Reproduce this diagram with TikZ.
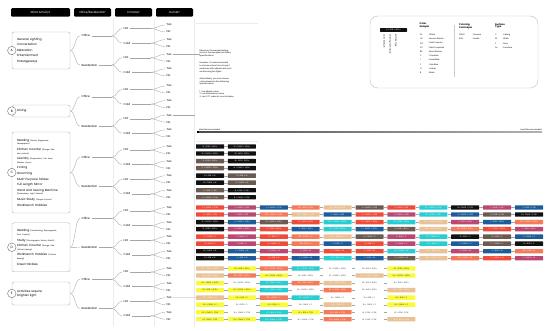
\documentclass[tikz,border=0pt]{standalone}
\usepackage{fontspec}
\setmainfont{Poppins}
\usetikzlibrary{positioning,calc}

% swatch colours (fill) and their text colours
\definecolor{swW}{HTML}{FFFFFF}
\definecolor{swLG}{HTML}{FAFA3C}
\definecolor{swGC}{HTML}{E9C195}
\definecolor{swDT}{HTML}{27CDD0}
\definecolor{swBS}{HTML}{F47B5A}
\definecolor{swC}{HTML}{EF4B3A}
\definecolor{swI}{HTML}{BB4872}
\definecolor{swY}{HTML}{1C5C98}
\definecolor{swU}{HTML}{6B5A50}
\definecolor{swB}{HTML}{111111}
\colorlet{txW}{black!80}
\colorlet{txLG}{black!80}
\colorlet{txGC}{white}
\colorlet{txDT}{white}
\colorlet{txBS}{white}
\colorlet{txC}{white}
\colorlet{txI}{white}
\colorlet{txY}{white}
\colorlet{txU}{white}
\colorlet{txB}{white}

\newcommand\sm{\fontsize{1.9}{2.5}\selectfont}

% one row of swatches: name, y, surface, list of colour/technique
\newcommand\swrow[4]{%
  \foreach \c/\t [count=\i] in {#4}{
    \node[swatch, fill=sw\c, text=tx\c] (#1-\i) at ({210+31.9*(\i-1)},#2) {\c{} + \t{} + #3};
    \ifnum\i>1
      \pgfmathtruncatemacro\j{\i-1}
      \draw[link] (#1-\j.east) -- (#1-\i.west);
    \fi
  }}

\tikzset{
  head/.style={fill=black, text=white, rounded corners=1.2pt, minimum height=8.5,
    inner sep=0, font=\fontsize{2.8}{3}\selectfont},
  actbox/.style={draw=black!30, line width=0.4pt, rounded corners=2pt, fill=white,
    align=left, text width=48, inner xsep=5, inner ysep=0, font=\fontsize{3}{5.6}\selectfont},
  tag/.style={circle, draw=black!55, line width=0.4pt, fill=white, minimum size=8.5,
    inner sep=0, font=\fontsize{3.2}{3.2}\selectfont},
  lbl/.style={inner xsep=1.5, inner ysep=0.5, font=\fontsize{2.8}{3}\selectfont},
  link/.style={draw=black!35, line width=0.35pt},
  guide/.style={draw=black!8, line width=0.4pt},
  swatch/.style={minimum width=28, minimum height=4.4, inner sep=0, rounded corners=0.4pt,
    font=\fontsize{1.9}{2}\selectfont},
  note/.style={align=left, inner sep=0, font=\fontsize{2}{2.7}\selectfont},
  leg/.style={inner sep=0, anchor=west, font=\fontsize{2}{2.4}\selectfont},
}

\begin{document}
\begin{tikzpicture}[x=1pt,y=-1pt]
\useasboundingbox (0,0) rectangle (550,331);

% column headers
\node[head, minimum width=59] (hact) at (40.5,12.5) {What Activity?};
\node[head, minimum width=37] (hofc) at (92.5,12.5) {Office/Residential?};
\node[head, minimum width=37] (hclm) at (133.5,12.5) {Climate?};
\node[head, minimum width=37] (hhum) at (174.5,12.5) {Humid?};

% column guides
\foreach \gx in {113,154.5,194.5}
  \draw[guide] (\gx,19) -- (\gx,326);
\draw[guide] (196,23) -- (258,23);

% activities
\node[actbox, minimum height=37] (A) at (41,50.5)
  {General Lighting\\Conversation\\Relaxation\\Entertainment\\Passageways};
\node[actbox, minimum height=12] (B) at (41,111) {Dining};
\node[actbox, minimum height=81] (C) at (41,172.5)
  {Reading {\sm(Books, Magazines,}\\[-2pt]{\sm Newspapers)}\\
   Kitchen Counter {\sm(Range, Sink,}\\[-2pt]{\sm Non-critical)}\\
   Laundry {\sm(Preparation, Tub Area,}\\[-2pt]{\sm Washer, Dryer)}\\
   Ironing\\Grooming\\Multi-Purpose Tables\\Full Length Mirror\\
   Hand and Sewing Machine\\[-2pt]{\sm(Embroidery, Light Fabrics)}\\
   Music Study {\sm(Simple Scores)}\\Workbench Hobbies};
\node[actbox, minimum height=49] (D) at (41,247.3)
  {Reading {\sm(Handwriting, Reprographs,}\\[-2pt]{\sm Poor Copies)}\\
   Study {\sm(Photographs, Books, Drafts)}\\
   Kitchen Counter {\sm(Range, Sink,}\\[-2pt]{\sm Critical Seeing)}\\
   Workbench Hobbies {\sm(Critical}\\[-2pt]{\sm Seeing)}\\
   Easel Hobbies};
\node[actbox, minimum height=23, font=\fontsize{3}{4}\selectfont] (E) at (41,293.5)
  {Activities require\\brighter light};
\foreach \g in {A,B,C,D,E}
  \node[tag] (t\g) at (\g.west) {\g};

% decision tree
\coordinate (fk) at (112,0);
\coordinate (fy) at (151,0);
\coordinate (gx) at (194.5,0);
\foreach \g/\yo in {A/25,B/86,C/146.5,D/207.5,E/268.5}{
  \foreach \k/\kn/\ki in {o/Office/0,r/Residential/1}{
    \node[lbl, anchor=west] (\g\k) at (80,\yo+10.8+29.2*\ki) {\kn};
    \draw[link] (\g.east) .. controls +(5,0) and +(-5,0) .. (\g\k.west);
    \draw[link] (\g\k.east) -- (\g\k.east -| fk);
    \foreach \c/\cn/\ci in {h/Hot/0,c/Cold/1}{
      \pgfmathsetmacro\yy{\yo+14.6*(2*\ki+\ci)}
      \node[lbl, anchor=west] (\g\k\c) at (122,\yy+3.5) {\cn};
      \draw[link] (\g\k.east -| fk) to[out=0,in=180] (\g\k\c.west);
      \draw[link] (\g\k\c.east) -- (\g\k\c.east -| fy);
      \node[lbl, anchor=west] (\g\k\c-y) at (165,\yy) {Yes};
      \node[lbl, anchor=west] (\g\k\c-n) at (165,\yy+7) {No};
      \draw[link] (\g\k\c.east -| fy) to[out=0,in=180] (\g\k\c-y.west);
      \draw[link] (\g\k\c.east -| fy) to[out=0,in=180] (\g\k\c-n.west);
    }
  }
}

% note for groups A and B
\node[note, anchor=north west] (memo) at (199.5,49.5)
  {Based on the sample testing,\\none of the samples met these\\specifications.\\[4.6pt]
   However, it is recommended\\to choose colors from Group C\\swatches with adjustment such\\as dimming the lights.\\[4.6pt]
   Alternatively, you can choose\\colors based on the following\\specifications:\\[4.6pt]
   1. Low albedo value\\2. Low illuminance value\\3. Low CCT value for cool climates};
\draw[link] (Arh-y.east) -- (Arh-y.east -| memo.west);
\draw[link] (Brh-y.east) -- (Brh-y.east -| gx);

% ranking bar
\node[leg, anchor=south west] (most) at (199,130.5) {Most Recommended};
\node[leg, anchor=south east] (least) at (542,130.5) {Least Recommended};
\shade[left color=black!70, right color=black!30] (197,131.5) rectangle (542,133);
\fill[black] (197,131) rectangle (199,133.5);
\draw[guide] (196,141) -- (258,141);

% group C swatches
\swrow{co1}{146.5}{W/Fu}{B/RYB,B/CMYK}
\swrow{co2}{153.5}{W/Fu}{B/CMYK,B/RYB}
\swrow{co3}{161.1}{W/Fu}{U/RYB,B/RYB}
\swrow{co4}{168.1}{W/Fu}{U/CMYK,B/CMYK}
\swrow{cr1}{175.7}{W}{B/RYB,U/RYB}
\swrow{cr2}{182.7}{W}{B/CMYK,U/CMYK}
\swrow{cr3}{190.3}{C/W}{U/RYB,B/RYB}
\swrow{cr4}{197.3}{C/W}{U/CMYK,B/CMYK}

% group D swatches
\swrow{do1}{207.5}{C/W}{C/CMYK,I/CMYK,Y/CMYK,BS/RYB,GC/RYB,U/CMYK,C/RYB,DT/CMYK,B/CMYK,I/RYB,Y/RYB}
\swrow{do2}{214.5}{C/W}{C/RYB,I/RYB,BS/CMYK,GC/CMYK,Y/RYB,C/CMYK,I/CMYK,DT/RYB,Y/CMYK,U/RYB,B/CMYK}
\swrow{do3}{222.1}{W/Fu}{B/CMYK,Y/CMYK,U/CMYK,C/RYB,DT/CMYK,C/CMYK,DT/RYB,GC/CMYK,I/RYB,Y/RYB,BS/CMYK}
\swrow{do4}{229.1}{W/Fu}{B/RYB,I/CMYK,C/RYB,Y/RYB,DT/RYB,Y/CMYK,U/RYB,GC/RYB,BS/RYB,C/CMYK,I/RYB}
\swrow{dr1}{236.7}{C}{C/CMYK,I/CMYK,C/RYB,BS/CMYK,GC/CMYK,U/CMYK,I/RYB,DT/CMYK,B/RYB,U/RYB,Y/CMYK}
\swrow{dr2}{243.7}{C}{C/RYB,I/RYB,C/CMYK,BS/RYB,Y/RYB,C/RYB,I/CMYK,DT/RYB,Y/CMYK,U/CMYK,B/RYB}
\swrow{dr3}{251.3}{W}{B/CMYK,Y/CMYK,I/CMYK,I/RYB,C/CMYK,C/RYB,DT/CMYK,GC/RYB,I/CMYK,Y/RYB,BS/RYB}
\swrow{dr4}{258.3}{W}{B/RYB,Y/RYB,C/RYB,Y/CMYK,DT/RYB,Y/RYB,U/CMYK,GC/CMYK,BS/CMYK,C/CMYK,I/CMYK}

% group E swatches
\swrow{eo1}{268.5}{W/Fu}{GC/CMYK,LG/RYB,BS/CMYK,DT/CMYK,W/CMYK,W/RYB,LG/RYB}
\swrow{eo2}{275.5}{W/Fu}{GC/RYB,BS/RYB,LG/CMYK,W/RYB,W/CMYK,GC/CMYK,LG/CMYK}
\swrow{eo3}{283.1}{W/Fu}{LG/CMYK,W/CMYK,DT/RYB,BS/RYB,GC/RYB,W/RYB,W/RYB}
\swrow{eo4}{290.1}{W/Fu}{LG/RYB,LG/CMYK,DT/CMYK,W/CMYK,BS/CMYK,W/RYB,GC/RYB}
\swrow{er1}{297.7}{C}{GC/CMYK,LG/RYB,BS/CMYK,DT/CMYK,W/CMYK,W/RYB,LG/RYB}
\swrow{er2}{304.7}{C}{LG/CMYK,W/RYB,LG/RYB,W/CMYK,GC/RYB,W/CMYK,LG/CMYK}
\swrow{er3}{312.3}{C/W}{LG/CMYK,W/CMYK,DT/RYB,LG/RYB,BS/RYB,W/RYB,W/RYB}
\swrow{er4}{319.3}{C/W}{LG/RYB,LG/CMYK,DT/CMYK,W/CMYK,BS/CMYK,W/RYB,GC/RYB}
\draw[link] (Erh-y.east) -- (er1-1.west);

% legend
\draw[black!25, line width=0.4pt, rounded corners=8pt] (370,16) rectangle (538,88);
\node[swatch, fill=swB, text=white, minimum width=27, minimum height=3.6] (key) at (393.5,30) {B + RYB + W/Fu};
\node[leg, rotate=-90, anchor=west] (kc) at (384,34) {Color Sample};
\node[leg, rotate=-90, anchor=west] (kt) at (390,34) {Coloring Technique};
\node[leg, rotate=-90, anchor=west] (ks) at (396,34) {Surface Type};
\draw[black!20, line width=0.4pt] (454,25) -- (454,77);
\node[leg, anchor=north west, align=left, font=\bfseries\fontsize{2.4}{2.9}\selectfont] (lc) at (419.5,23) {Color\\Sample};
\node[leg, anchor=north west, align=left, font=\bfseries\fontsize{2.4}{2.9}\selectfont] (lt) at (459,23) {Coloring\\Technique};
\node[leg, anchor=north west, align=left, font=\bfseries\fontsize{2.4}{2.9}\selectfont] (ls) at (495,23) {Surface\\Type};
\foreach \a/\b [count=\i] in {W/White,LG/Lemon Glacier,GC/Gold Crayola,DT/Dark Turquoise,BS/Burnt Sienna,C/Cinnabar,I/Irresistible,Y/Yale Blue,U/Umber,B/Black}{
  \node[leg] (lc\i) at (420,{35+4.2*(\i-1)}) {\a};
  \node[leg] at (428,{35+4.2*(\i-1)}) {: \b};
}
\foreach \a/\b [count=\i] in {CMYK/Process,RYB/Pastel}{
  \node[leg] (lt\i) at (459,{35+4.2*(\i-1)}) {\a};
  \node[leg] at (472,{35+4.2*(\i-1)}) {: \b};
}
\foreach \a/\b [count=\i] in {C/Ceiling,W/Walls,F/Floor,Fu/Furniture}{
  \node[leg] (ls\i) at (495,{35+4.2*(\i-1)}) {\a};
  \node[leg] at (502,{35+4.2*(\i-1)}) {: \b};
}
\end{tikzpicture}
\end{document}
